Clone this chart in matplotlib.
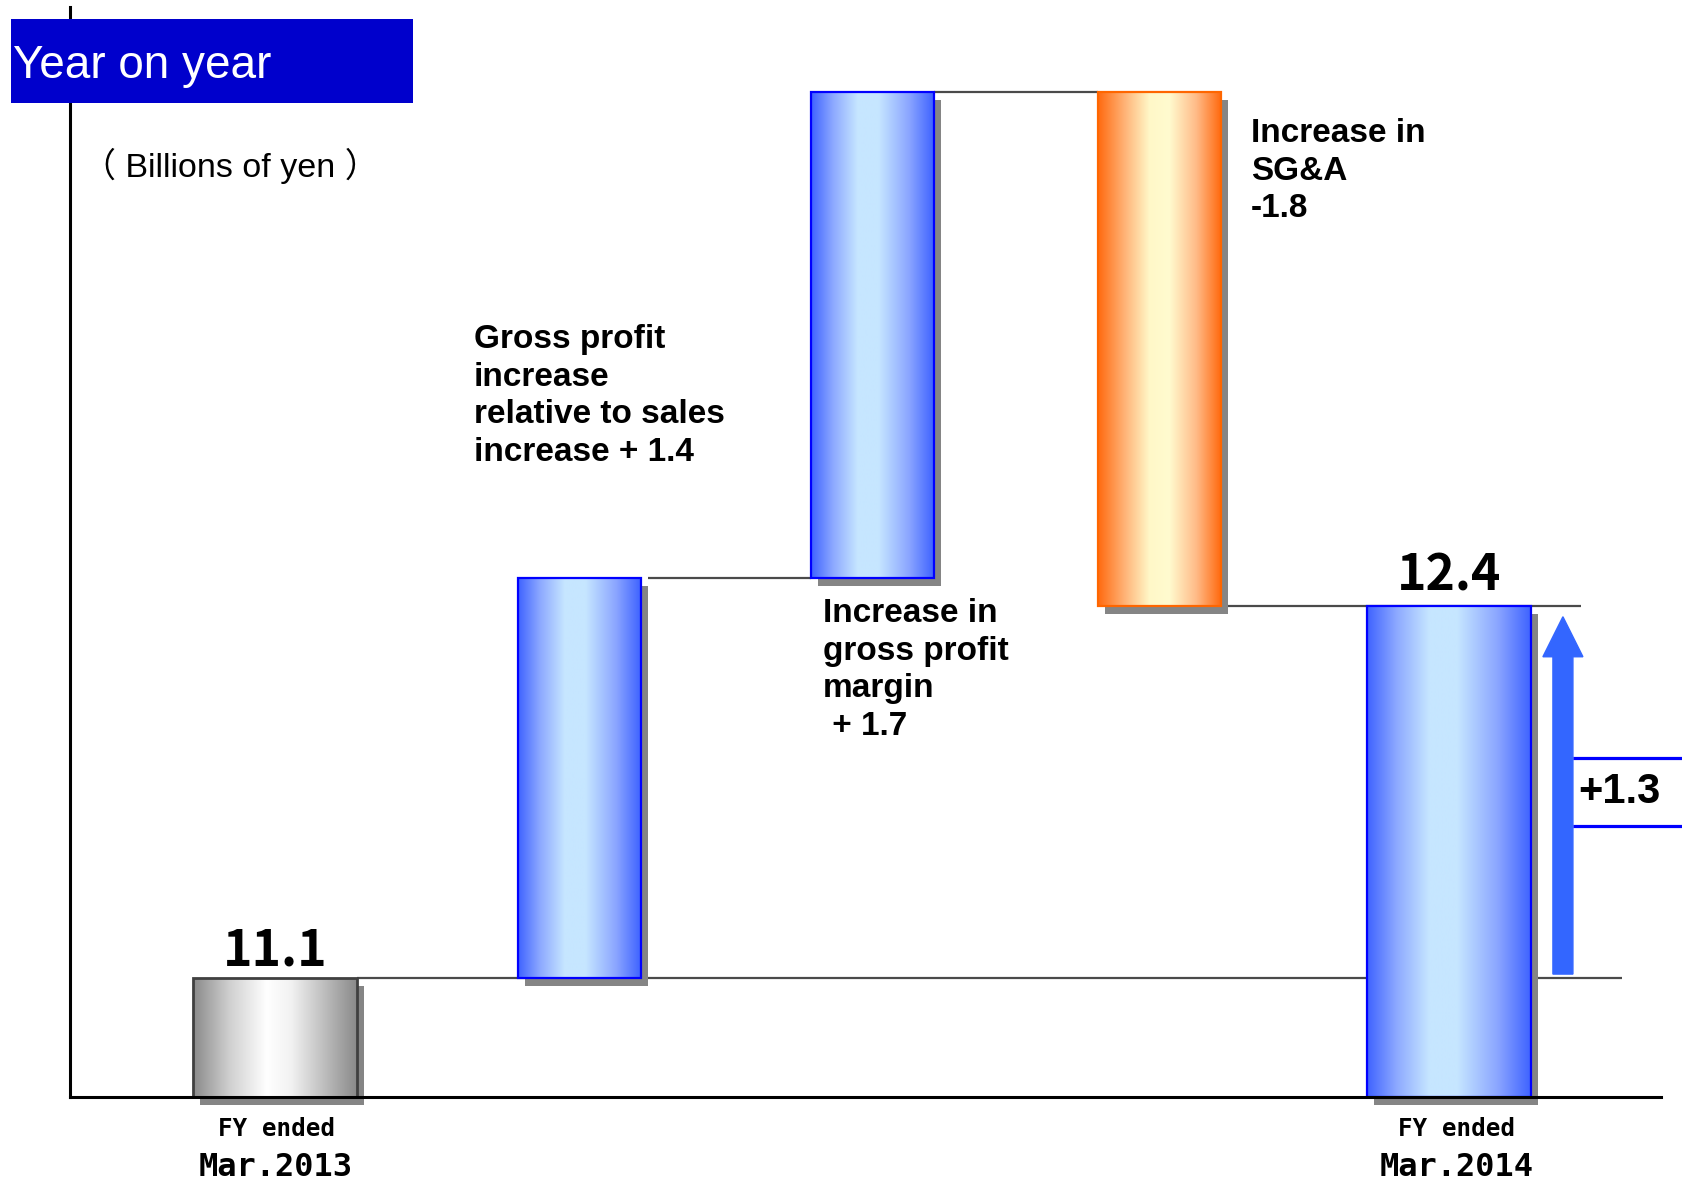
import numpy as np
import matplotlib
matplotlib.use('Agg')
import matplotlib.pyplot as plt
from matplotlib.patches import Rectangle, FancyArrow
from matplotlib.colors import LinearSegmentedColormap

# ---------------- data ----------------
start_total = 11.1
changes = [1.4, 1.7, -1.8]
end_total = 12.4
yoy_change = 1.3
total_labels = ['11.1', '12.4']
change_labels = ['Gross profit\nincrease\nrelative to sales\nincrease + 1.4',
                 'Increase in\ngross profit\nmargin\n + 1.7',
                 'Increase in\nSG&A\n-1.8']
period_top = ['FY ended', 'FY ended']
period_bottom = ['Mar.2013', 'Mar.2014']
title = 'Year on year'
unit_label = '\uff08 Billions of yen \uff09'
yoy_label = '+1.3'

# ---------------- layout ----------------
W, H = 1683, 1185
fig = plt.figure(figsize=(W / 100, H / 100), dpi=100)

def fx(px):
    return px / W

def fy(py):
    return 1 - py / H

ax_l, ax_r, ax_t, ax_b = 70, 1661, 7, 1097
ax = fig.add_axes([fx(ax_l), fy(ax_b), fx(ax_r - ax_l), (ax_b - ax_t) / H])
ylo, yhi = 10.684, 14.497
xlo, xhi = -0.700, 4.734
xs_per_px = (xhi - xlo) / (ax_r - ax_l)
ys_per_px = (yhi - ylo) / (ax_b - ax_t)

positions = [0, 1.04, 2.04, 3.02, 4.01]
widths = [0.56, 0.42, 0.42, 0.42, 0.56]

# waterfall bottoms / tops
levels = [start_total]
for c in changes:
    levels.append(levels[-1] + c)
bottoms = [ylo, levels[0], levels[1], levels[3], ylo]
tops = [levels[0], levels[1], levels[2], levels[2], end_total]

blue = [(0, '#3F63FF'), (0.18, '#8DA9FF'), (0.38, '#C6E6FF'), (0.55, '#C6E6FF'),
        (0.8, '#8AA5FF'), (1, '#3F63FF')]
gray = [(0, '#8A8A8A'), (0.22, '#CFCFCF'), (0.45, '#FFFFFF'), (0.6, '#F2F2F2'),
        (1, '#8A8A8A')]
orange = [(0, '#FF6A10'), (0.22, '#FFB478'), (0.42, '#FFF8C8'), (0.58, '#FFFBCF'),
          (0.8, '#FFBB88'), (1, '#FF6A10')]
fills = [gray, blue, blue, orange, blue]
edges = ['#404040', '#0000FF', '#0000FF', '#FF6600', '#0000FF']
edge_lw = [2.0, 1.6, 1.6, 1.6, 1.6]

shadow_dx = 7 * xs_per_px
shadow_dy = 8 * ys_per_px

# connector lines (below bars)
line_kw = dict(color='#4A4A4A', lw=1.6, zorder=1, solid_capstyle='butt')
ax.plot([positions[0] + widths[0] / 2, positions[4] + 0.59], [levels[0]] * 2, clip_on=False, **line_kw)
ax.plot([positions[1] + widths[1] / 2 + shadow_dx, positions[2] - widths[2] / 2], [levels[1]] * 2, **line_kw)
ax.plot([positions[2] + widths[2] / 2, positions[3] - widths[3] / 2], [levels[2]] * 2, **line_kw)
ax.plot([positions[3] + widths[3] / 2, positions[4] + 0.45], [levels[3]] * 2, **line_kw)

for i in range(5):
    x0 = positions[i] - widths[i] / 2
    x1 = positions[i] + widths[i] / 2
    b, t = bottoms[i], tops[i]
    ax.add_patch(Rectangle((x0 + shadow_dx, b - shadow_dy), widths[i], t - b,
                           facecolor='#858585', edgecolor='none', zorder=2, clip_on=False))
    cmap = LinearSegmentedColormap.from_list('g%d' % i, fills[i])
    img = cmap(np.linspace(0, 1, 256))[None, :, :]
    ax.imshow(img, extent=[x0, x1, b, t], aspect='auto', zorder=3, interpolation='bilinear')
    ax.add_patch(Rectangle((x0, b), widths[i], t - b, facecolor='none',
                           edgecolor=edges[i], lw=edge_lw[i], zorder=4))

# year-on-year arrow
arrow_x = positions[4] + 0.389
ax.add_patch(FancyArrow(arrow_x, start_total + 4 * ys_per_px, 0, yoy_change - 0.05,
                        width=20 * xs_per_px, head_width=40 * xs_per_px,
                        head_length=40 * ys_per_px, length_includes_head=True,
                        color='#3366FF', zorder=5, clip_on=False))
mid = start_total + yoy_change / 2
half_h = 34 * ys_per_px
bx0, bx1 = positions[4] + 0.423, positions[4] + 0.80
for yy in (mid + half_h, mid - half_h):
    ax.plot([bx0, bx1], [yy, yy], color='#0000FF', lw=2.3, clip_on=False, zorder=5,
            solid_capstyle='butt')
ax.text(bx0 + 5 * xs_per_px, mid, yoy_label, fontsize=30, fontweight='bold',
        family='Liberation Sans', ha='left', va='center', zorder=6)

ax.set_xlim(xlo, xhi)
ax.set_ylim(ylo, yhi)
ax.set_xticks([])
ax.set_yticks([])
for s in ('top', 'right'):
    ax.spines[s].set_visible(False)
for s in ('left', 'bottom'):
    ax.spines[s].set_linewidth(2.2)
    ax.spines[s].set_color('black')
    ax.spines[s].set_zorder(10)
ax.patch.set_alpha(0)

# title box (behind axes spine)
fig.patches.append(Rectangle((fx(11), fy(103)), fx(413 - 11), (103 - 19) / H,
                             transform=fig.transFigure, facecolor='#0000CC',
                             edgecolor='none', zorder=0))
fig.text(fx(13), fy(78), title, color='white', fontsize=33, family='Liberation Sans',
         ha='left', va='baseline', zorder=1)
fig.text(fx(82), fy(166), unit_label, fontsize=24.5,
         family=['Liberation Sans', 'Noto Sans CJK JP'], ha='left', va='center')

# total value labels
ax.text(positions[0], tops[0] + 27 * ys_per_px, total_labels[0], fontsize=36,
        fontweight='bold', family='Noto Sans CJK JP', ha='center', va='center')
ax.text(positions[4], tops[4] + 30 * ys_per_px, total_labels[1], fontsize=36,
        fontweight='bold', family='Noto Sans CJK JP', ha='center', va='center')

# period labels
for j, cx in enumerate((276, 1457)):
    fig.text(fx(cx), fy(1129), period_top[j], fontsize=17.5, fontweight='bold',
             family='DejaVu Sans Mono', ha='center', va='center')
    fig.text(fx(cx), fy(1168), period_bottom[j], fontsize=23, fontweight='bold',
             family='DejaVu Sans Mono', ha='center', va='center')

# change annotations
ann_pos = [(474, 324), (823, 598), (1251, 118)]
for (px, py), lab in zip(ann_pos, change_labels):
    fig.text(fx(px), fy(py), lab, fontsize=24, fontweight='bold',
             family='Liberation Sans', ha='left', va='top', linespacing=1.28)

fig.savefig('out.png', dpi=100)
